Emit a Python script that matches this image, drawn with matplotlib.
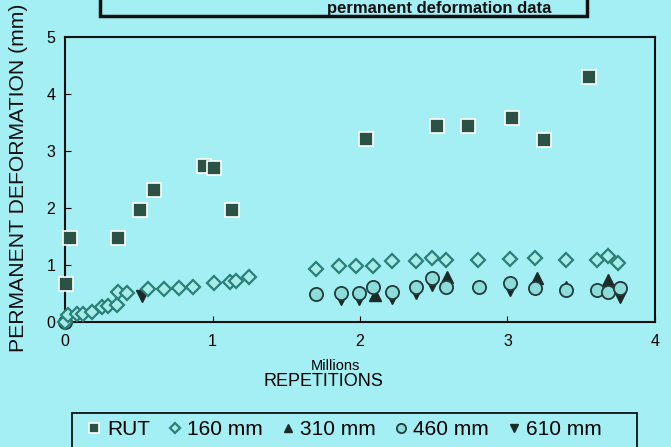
import matplotlib.pyplot as plt
from matplotlib.patches import Rectangle

plt.rcParams['font.family'] = ['Liberation Sans', 'DejaVu Sans']

BG = '#a3eff4'

# RUT (rut depth, mm) vs load repetitions (millions)
rut_x = [0.007, 0.03, 0.36, 0.51, 0.60, 0.94, 1.01, 1.13, 2.04, 2.52, 2.73, 3.03, 3.25, 3.55]
rut_y = [0.67, 1.47, 1.47, 1.96, 2.32, 2.74, 2.70, 1.96, 3.21, 3.44, 3.44, 3.58, 3.19, 4.30]

# 160 mm depth
d160_x = [0.0, 0.02, 0.08, 0.12, 0.18, 0.25, 0.29, 0.35, 0.36, 0.42, 0.56, 0.67, 0.77, 0.87,
          1.01, 1.12, 1.16, 1.25, 1.70, 1.86, 1.97, 2.09, 2.22, 2.38, 2.49, 2.58, 2.80,
          3.02, 3.19, 3.40, 3.61, 3.68, 3.75]
d160_y = [0.0, 0.12, 0.14, 0.14, 0.18, 0.26, 0.28, 0.30, 0.53, 0.51, 0.58, 0.58, 0.60, 0.61,
          0.68, 0.70, 0.72, 0.79, 0.93, 0.98, 0.98, 0.98, 1.07, 1.07, 1.12, 1.09, 1.09,
          1.10, 1.12, 1.09, 1.09, 1.15, 1.04]

# 310 mm depth
d310_x = [2.10, 2.59, 3.20, 3.40, 3.68]
d310_y = [0.47, 0.79, 0.77, 0.62, 0.74]

# 460 mm depth
d460_x = [0.0, 1.70, 1.87, 1.99, 2.09, 2.22, 2.38, 2.49, 2.58, 2.81, 3.02, 3.19, 3.40, 3.61, 3.68, 3.76]
d460_y = [0.0, 0.49, 0.51, 0.51, 0.61, 0.53, 0.61, 0.77, 0.61, 0.61, 0.68, 0.60, 0.56, 0.56, 0.53, 0.60]

# 610 mm depth
d610_x = [0.52, 1.87, 1.99, 2.22, 2.38, 2.49, 3.02, 3.76]
d610_y = [0.45, 0.40, 0.40, 0.42, 0.50, 0.65, 0.56, 0.44]


def do_plot():
    fig = plt.figure(figsize=(6.71, 4.47), dpi=100, facecolor=BG)
    ax = fig.add_axes([0.097, 0.280, 0.879, 0.637])
    ax.set_facecolor(BG)

    ax.plot(d610_x, d610_y, 'v', color='#1b2b28', markersize=8, label='610 mm', zorder=2, clip_on=False)
    ax.plot(d310_x, d310_y, '^', color='#1b2b28', markersize=8, label='310 mm', zorder=2, clip_on=False)
    ax.plot(d460_x, d460_y, 'o', mfc='#8ddcdc', mec='#213c3a', mew=1.3, markersize=9.5,
            label='460 mm', zorder=3, clip_on=False)
    ax.plot(d160_x, d160_y, 'D', mfc='#a6ecea', mec='#2a7f77', mew=1.6, markersize=7,
            label='160 mm', zorder=4, clip_on=False)
    ax.plot(rut_x, rut_y, 's', mfc='#2c5246', mec='white', mew=1.2, markersize=10,
            label='RUT', zorder=5, clip_on=False)

    ax.set_xlim(0, 4)
    ax.set_ylim(0, 5)
    ax.set_xticks([0, 1, 2, 3, 4])
    ax.set_yticks([0, 1, 2, 3, 4, 5])
    ax.tick_params(direction='in', length=4, labelsize=11.5)
    ax.tick_params(axis='x', pad=9)
    ax.tick_params(axis='y', pad=7)
    for s in ax.spines.values():
        s.set_linewidth(1.5)
        s.set_color('#111111')

    fig.text(0.028, 0.602, 'PERMANENT DEFORMATION (mm)', rotation=90, ha='center', va='center',
             fontsize=15.2, color='#111111')
    fig.text(0.500, 1 - 366 / 447, 'Millions', ha='center', va='center', fontsize=10.5)
    fig.text(0.482, 1 - 381 / 447, 'REPETITIONS', ha='center', va='center', fontsize=13)

    # title box running off the top of the page
    box = Rectangle((100 / 671, 1 - 16 / 447), 487 / 671, 40 / 447,
                    transform=fig.transFigure, fc=BG, ec='#111111', lw=2.5, clip_on=False)
    fig.patches.append(box)
    fig.text(0.655, 1 - 8 / 447, 'permanent deformation data', ha='center', va='center',
             fontsize=12, fontweight='bold', color='#111111')

    # legend frame, cut by the bottom edge
    frame = Rectangle((72 / 671, -0.05), 565 / 671, 0.05 + (447 - 413) / 447,
                      transform=fig.transFigure, fc=BG, ec='#111111', lw=1.3, clip_on=False)
    fig.patches.append(frame)

    handles, labels = ax.get_legend_handles_labels()
    order = [4, 3, 1, 2, 0]
    top = 1 - 416 / 447
    fig.legend([handles[i] for i in order], [labels[i] for i in order],
               loc='upper left', bbox_to_anchor=(84 / 671, top - 0.05, 522 / 671, 0.05),
               mode='expand', ncol=5, fontsize=15, frameon=False,
               handlelength=0.6, handletextpad=0.3, columnspacing=0.8,
               borderpad=0.2, borderaxespad=0.0, markerscale=0.7)

    fig.savefig('out.png', dpi=100, facecolor=BG)


if __name__ == '__main__':
    do_plot()
